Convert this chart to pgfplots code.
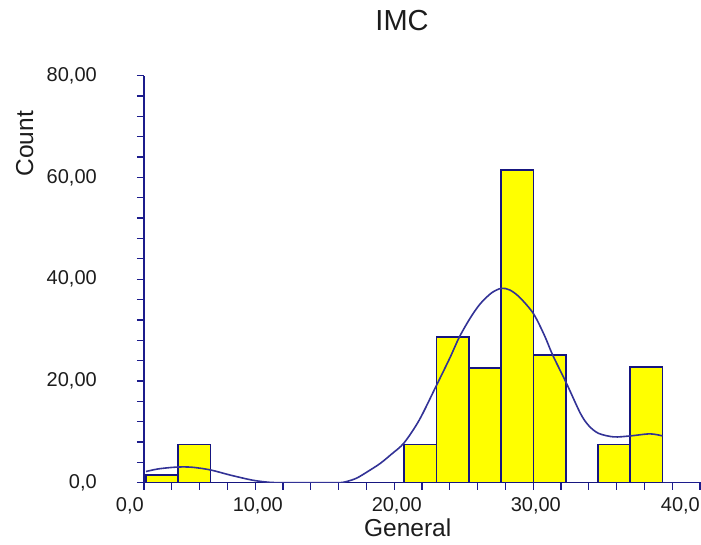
\documentclass[border=0pt]{standalone}
\usepackage{fontspec}
\setmainfont{Liberation Sans}
\usepackage{pgfplots}
\usepackage{pgfplotstable}
\pgfplotsset{compat=1.18}

\definecolor{barfill}{RGB}{255,255,0}
\definecolor{baredge}{RGB}{22,22,128}
\definecolor{curveblue}{RGB}{50,50,150}
\definecolor{axisblue}{RGB}{28,28,140}
\definecolor{txt}{RGB}{28,28,28}

% histogram counts, bin width 2.323 starting at 0.14
\pgfplotstableread{
x       count
0.140   1.5
2.463   7.5
4.786   0
7.109   0
9.432   0
11.755  0
14.078  0
16.401  0
18.724  7.5
21.047  28.7
23.370  22.5
25.693  61.4
28.016  25.1
30.339  0
32.662  7.5
34.985  22.8
37.308  0
}\histtable

\begin{document}
\begin{tikzpicture}
\begin{axis}[
  scale only axis, width=557.4pt, height=407pt,
  xmin=0, xmax=40.1, ymin=0, ymax=80,
  axis x line=bottom, axis y line=left,
  axis line style={-, axisblue, line width=1.6pt},
  xtick={0,10,20,30,40},
  xticklabels={{0,0},{10,00},{20,00},{30,00},{40,0}},
  minor x tick num=4,
  ytick={0,20,40,60,80},
  yticklabels={{0,0},{20,00},{40,00},{60,00},{80,00}},
  minor y tick num=4,
  tick align=outside, major tick length=7pt, minor tick length=7pt,
  every tick/.style={axisblue, line width=1.3pt},
  every minor tick/.style={axisblue, line width=1.3pt},
  tick label style={font=\fontsize{20}{20}\selectfont, text=txt, inner sep=0pt},
  xticklabel style={anchor=north east, xshift=0pt, yshift=-8pt},
  yticklabel style={anchor=east, xshift=-40pt},
  title={IMC},
  title style={at={(axis description cs:0.463,1.0975)}, anchor=base,
    font=\fontsize{29}{29}\selectfont, text=txt, inner sep=0pt},
  xlabel={General},
  xlabel style={at={(axis description cs:0.473,0)}, anchor=base, yshift=-54pt,
    font=\fontsize{24.5}{24.5}\selectfont, text=txt, inner sep=0pt},
  ylabel={Count},
  ylabel style={at={(axis description cs:-0.1991,0.833)}, rotate=0, anchor=base,
    font=\fontsize{24.5}{24.5}\selectfont, text=txt, inner sep=0pt},
]
\coordinate (O) at (axis cs:0,0);

% bar bodies first, outlines on top so shared edges keep full width
\addplot[ybar interval, fill=barfill, draw=none] table[x=x, y=count] {\histtable};
\addplot[ybar interval, fill=none, draw=baredge, line width=1.7pt] table[x=x, y=count] {\histtable};

% density curve
\addplot[curveblue, line width=1.6pt, smooth, tension=0.5]
  coordinates {
    (0.14,2.2) (1.0,2.7) (2.0,3.0) (2.8,3.1) (3.6,3.0) (4.8,2.5)
    (6.2,1.5) (7.8,0.5) (9.0,0.08) (10.0,0) (12.0,0) (14.0,0)
    (14.6,0.25) (15.3,0.9) (16.1,2.2) (17.0,3.8) (17.8,5.6) (18.7,7.8)
    (19.8,12.3) (21.0,18.9) (22.0,24.5) (22.7,28.7) (23.5,32.5)
    (24.2,35.2) (25.0,37.3) (25.7,38.2) (26.3,37.9) (27.0,36.5)
    (28.0,33.3) (28.8,29.0) (29.4,25.1) (30.4,19.5) (31.4,13.6)
    (32.0,11.2) (32.7,9.7) (33.8,9.0) (35.0,9.2) (36.4,9.6) (37.3,9.2)
  };
\end{axis}
\pgfresetboundingbox
\path[use as bounding box] (O) ++(-144pt,-62.3pt) rectangle ++(701pt,545pt);
\end{tikzpicture}
\end{document}
